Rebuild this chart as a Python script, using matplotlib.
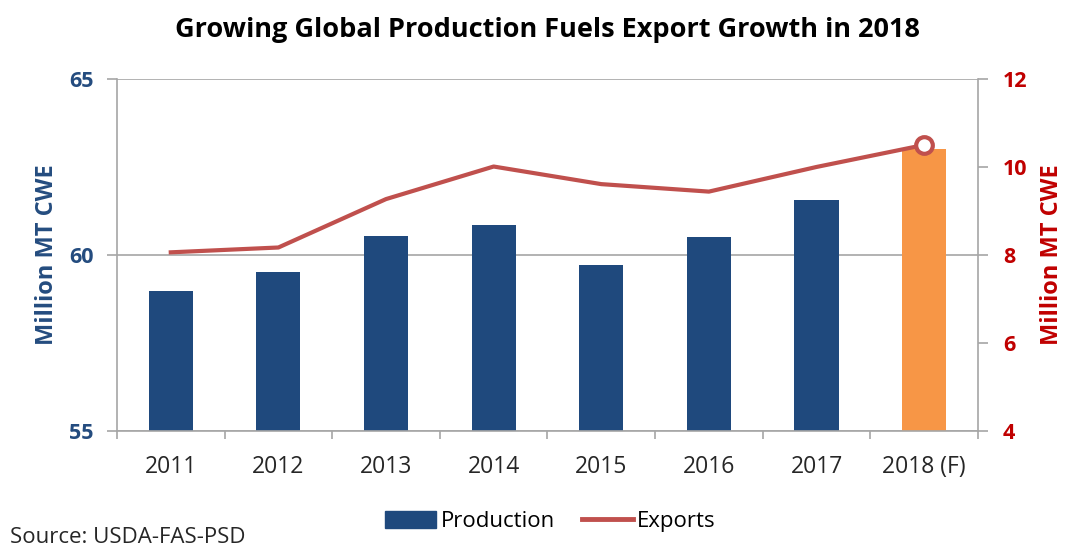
import matplotlib.pyplot as plt
import numpy as np

years = ["2011", "2012", "2013", "2014", "2015", "2016", "2017", "2018 (F)"]
production = [58.98, 59.53, 60.55, 60.84, 59.71, 60.50, 61.56, 63.02]
exports = [8.06, 8.17, 9.27, 10.01, 9.61, 9.44, 10.0, 10.5]

BLUE = "#1F497D"
ORANGE = "#F79646"
RED_LINE = "#C0504D"
RED_TEXT = "#C00000"
BLUE_TEXT = "#244C7F"
GRID = "#A6A6A6"

plt.rcParams["font.family"] = ["Open Sans", "DejaVu Sans"]

fig = plt.figure(figsize=(10.9, 5.6), dpi=100)
ax = fig.add_axes([0.1073, 0.2304, 0.7899, 0.6286])
ax2 = ax.twinx()

x = np.arange(len(years))
colors = [BLUE] * (len(years) - 1) + [ORANGE]
ax.bar(x, production, width=0.41, color=colors, zorder=2)
ax.set_ylim(55, 65)
ax.set_xlim(-0.5, len(years) - 0.5)
ax.set_yticks([55, 60, 65])
ax.yaxis.grid(True, color=GRID, linewidth=1.2, zorder=0)
ax.set_axisbelow(True)

ax2.plot(x, exports, color=RED_LINE, linewidth=3, zorder=3)
ax2.plot(x[-1], exports[-1], marker="o", markersize=12, markerfacecolor="white",
         markeredgecolor=RED_LINE, markeredgewidth=3, zorder=4)
ax2.set_ylim(4, 12)
ax2.set_yticks([4, 6, 8, 10, 12])

# category ticks sit between the bars
ax.set_xticks(x)
ax.set_xticklabels(years, fontsize=16.5, color="#262626")
ax.set_xticks(np.arange(-0.5, len(years)), minor=True)
ax.tick_params(axis="x", which="major", length=0, pad=17)
ax.tick_params(axis="x", which="minor", length=6, color=GRID, width=1.2)

ax.tick_params(axis="y", length=7, color=GRID, width=1.2, labelsize=15.5, labelcolor=BLUE_TEXT, pad=10)
for lbl in ax.get_yticklabels():
    lbl.set_fontweight("bold")
ax2.tick_params(axis="y", length=7, color=GRID, width=1.2, labelsize=15.5, labelcolor=RED_TEXT, pad=11)
for lbl in ax2.get_yticklabels():
    lbl.set_fontweight("bold")

for a in (ax, ax2):
    a.spines["top"].set_visible(False)
    for s in ("left", "right", "bottom"):
        a.spines[s].set_color(GRID)
        a.spines[s].set_linewidth(1.2)
ax.spines["right"].set_visible(False)
ax2.spines["left"].set_visible(False)
ax2.spines["bottom"].set_visible(False)

ax.set_ylabel("Million MT CWE", fontsize=17, fontweight="bold", color=BLUE_TEXT, labelpad=7)
ax2.set_ylabel("Million MT CWE", fontsize=17, fontweight="bold", color=RED_TEXT, labelpad=9)

fig.suptitle("Growing Global Production Fuels Export Growth in 2018", x=0.502, y=0.97,
             fontsize=19.5, fontweight="bold", color="black")

handles = [plt.Rectangle((0, 0), 1, 1, color=BLUE),
           plt.Line2D([0], [0], color=RED_LINE, linewidth=3.5)]
fig.legend(handles, ["Production", "Exports"], loc="center", bbox_to_anchor=(0.505, 0.069),
           ncol=2, frameon=False, fontsize=16, handlelength=2.3, handleheight=0.8,
           columnspacing=1.2, handletextpad=0.2)

fig.text(0.009, 0.04, "Source: USDA-FAS-PSD", fontsize=16, color="#262626", va="center")

fig.savefig("out.png", dpi=100)
